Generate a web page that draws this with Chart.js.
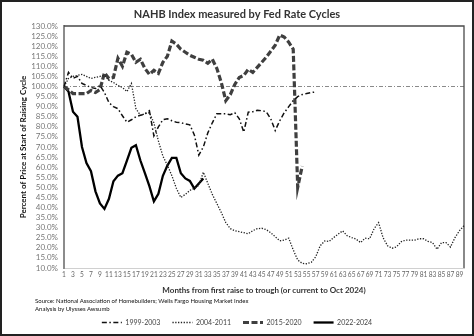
<!DOCTYPE html>
<html>
<head>
<meta charset="utf-8">
<script src="https://cdn.jsdelivr.net/npm/chart.js@4.4.0/dist/chart.umd.min.js"></script>
<style>
  html, body { margin: 0; padding: 0; background: #fff; }
  #wrap { position: relative; width: 474px; height: 336px; }
  #frame { position: absolute; left: 0; top: 0; width: 474px; height: 336px; box-sizing: border-box; border: 2px solid #222; pointer-events: none; }
  #source { position: absolute; left: 35px; top: 297px; font: 6px Lato, sans-serif; line-height: 8px; color: #111; white-space: nowrap; }
</style>
</head>
<body>
<div id="wrap">
  <canvas id="chart" width="474" height="336"></canvas>
  <div id="source">Source: National Association of Homebuilders; Wells Fargo Housing Market Index<br>Analysis by Ulysses Awsumb</div>
  <div id="frame"></div>
</div>
<script>
// months since the first rate raise
const months = [
  1, 2, 3, 4, 5, 6, 7, 8, 9, 10, 11, 12, 13, 14, 15, 16, 17, 18, 19, 20,
  21, 22, 23, 24, 25, 26, 27, 28, 29, 30, 31, 32, 33, 34, 35, 36, 37, 38, 39, 40,
  41, 42, 43, 44, 45, 46, 47, 48, 49, 50, 51, 52, 53, 54, 55, 56, 57, 58, 59, 60,
  61, 62, 63, 64, 65, 66, 67, 68, 69, 70, 71, 72, 73, 74, 75, 76, 77, 78, 79, 80,
  81, 82, 83, 84, 85, 86, 87, 88, 89, 90
];

// percent of index at start of each raising cycle
const cycle1999 = [
  100, 107, 104, 105, 101.5, 100.5, 99.5, 99, 100.5, 97,
  92, 90, 89, 85.5, 82.3, 83.5, 85, 85.7, 86.5, 88,
  75.5, 80, 83.5, 84, 83, 82.3, 82, 81.5, 81, 76,
  66, 70, 77, 82, 86.5, 86.5, 86.5, 86, 87, 84,
  77.4, 87.3, 87.5, 88.2, 88, 87.5, 84, 78.2, 83, 87,
  90, 93, 95, 96, 96.5, 97, 97.3
];

const cycle2004 = [
  100, 104, 105, 105.5, 106, 105, 104, 104.5, 105, 105.5,
  103, 102, 100.5, 99.5, 97.5, 101.5, 89, 85.7, 86.5, 87,
  82, 73, 65.5, 61, 55.8, 49.5, 45, 46.5, 48.5, 49.5,
  51, 57.5, 52, 46.5, 42, 37.5, 32.5, 29.5, 28.5, 28,
  27.5, 27, 28.5, 29.5, 29.7, 29, 27.5, 25.5, 23.5, 23.8,
  24.8, 19, 14, 12.3, 12.1, 12.8, 15.5, 21, 23.4, 23.2,
  25.1, 26.8, 28.4, 26, 25.1, 24.3, 22.6, 24.8, 24.5, 29.5,
  32.5, 25, 21, 19.8, 20.5, 23, 23.8, 23.8, 23.8, 24.5,
  24.5, 23.2, 22.6, 19.3, 22.6, 22.6, 20.4, 25.1, 28.5, 31
];

const cycle2015 = [
  100, 98.4, 96.5, 96.5, 96.5, 96.5, 98, 97, 98.5, 106.8,
  104, 104.5, 114, 110, 117, 116, 112, 113.5, 109, 106,
  108, 106.5, 112, 115, 122.5, 121, 118.5, 117, 115.5, 114.5,
  113.5, 113, 111.5, 113.5, 109, 102, 93, 96, 101, 104.5,
  105.5, 108.5, 107, 109.5, 112, 114.5, 117.5, 120.5, 125.5, 124.5,
  122, 118.5, 50, 60.5
];

const cycle2022 = [
  100, 97.5, 87.5, 85, 70, 62, 58, 48, 42, 39.3,
  44.3, 53, 55.8, 57, 63.3, 69.6, 70.9, 63.3, 57, 50.6,
  43, 46.8, 55.7, 60.8, 64.6, 64.6, 57, 54.4, 53.2, 49.4,
  51.9, 54.4
];

const yMin = 10;
const yMax = 130;
const yStep = 5;

// 100% reference line plus the top/right edges of the plot box
const plotFrame = {
  id: 'plotFrame',
  beforeDatasetsDraw(chart) {
    const { ctx, chartArea: a, scales: { y } } = chart;
    const y100 = y.getPixelForValue(100);
    ctx.save();
    ctx.strokeStyle = '#8a8a8a';
    ctx.lineWidth = 1;
    ctx.setLineDash([4, 2, 1, 2]);
    ctx.beginPath();
    ctx.moveTo(a.left, y100);
    ctx.lineTo(a.right, y100);
    ctx.stroke();
    ctx.setLineDash([]);
    ctx.strokeStyle = '#4a4a4a';
    ctx.lineWidth = 1.3;
    ctx.beginPath();
    ctx.moveTo(a.left, a.top);
    ctx.lineTo(a.right, a.top);
    ctx.lineTo(a.right, a.bottom);
    ctx.stroke();
    ctx.restore();
  }
};

const ctx = document.getElementById('chart').getContext('2d');
new Chart(ctx, {
  type: 'line',
  data: {
    labels: months,
    datasets: [
      { label: '1999-2003', data: cycle1999, borderColor: '#111', borderWidth: 1.5, borderDash: [5, 2.5, 1.5, 2.5] },
      { label: '2004-2011', data: cycle2004, borderColor: '#222', borderWidth: 1.3, borderDash: [1.3, 1.5] },
      { label: '2015-2020', data: cycle2015, borderColor: '#3f3f3f', borderWidth: 3.2, borderDash: [6, 2.5] },
      { label: '2022-2024', data: cycle2022, borderColor: '#000', borderWidth: 2.3 }
    ]
  },
  options: {
    responsive: false,
    animation: false,
    layout: { padding: { left: 10, right: 10, top: 0, bottom: 0 } },
    elements: {
      point: { radius: 0 },
      line: { tension: 0, fill: false }
    },
    scales: {
      x: {
        type: 'category',
        grid: { display: false, drawTicks: false },
        border: { display: true, color: '#d0d0d0', width: 1 },
        ticks: {
          autoSkip: false,
          maxRotation: 0,
          padding: 3,
          color: '#666',
          font: { family: 'Lato', size: 6.6 },
          callback: (v, i) => (i % 2 === 0 ? months[i] : '')
        },
        title: {
          display: true,
          text: 'Months from first raise to trough (or current to Oct 2024)',
          color: '#333',
          font: { family: 'Lato', size: 8, weight: 'bold' },
          padding: { top: 2, bottom: 12.2 }
        },
        afterFit: (scale) => { scale.height = 39; }
      },
      y: {
        min: yMin,
        max: yMax,
        grid: { display: false, drawTicks: false },
        border: { display: true, color: '#8c8c8c', width: 2 },
        ticks: {
          stepSize: yStep,
          autoSkip: false,
          padding: 6,
          color: '#777',
          font: { family: 'Lato', size: 8 },
          callback: (v) => v.toFixed(1) + '%'
        },
        title: {
          display: true,
          text: 'Percent of Price at Start of Raising Cycle',
          color: '#111',
          font: { family: 'Lato', size: 8, weight: 'bold' },
          padding: { top: 9, bottom: 0 }
        },
        afterFit: (scale) => { scale.width = 54; }
      }
    },
    plugins: {
      title: {
        display: true,
        text: 'NAHB Index measured by Fed Rate Cycles',
        color: '#333',
        font: { family: 'Lato', size: 11, weight: 'bold' },
        padding: { top: 8, bottom: 4.8 }
      },
      legend: {
        position: 'bottom',
        labels: {
          usePointStyle: true,
          pointStyleWidth: 20,
          padding: 12,
          color: '#444',
          font: { family: 'Lato', size: 7 },
          generateLabels: (chart) => chart.data.datasets.map((ds, i) => ({
            text: ds.label,
            strokeStyle: ds.borderColor,
            fillStyle: ds.borderColor,
            lineWidth: ds.borderWidth,
            lineDash: ds.borderDash || [],
            pointStyle: 'line',
            fontColor: '#444',
            hidden: false,
            datasetIndex: i
          }))
        }
      },
      tooltip: { enabled: false }
    }
  },
  plugins: [plotFrame]
});
</script>
</body>
</html>
